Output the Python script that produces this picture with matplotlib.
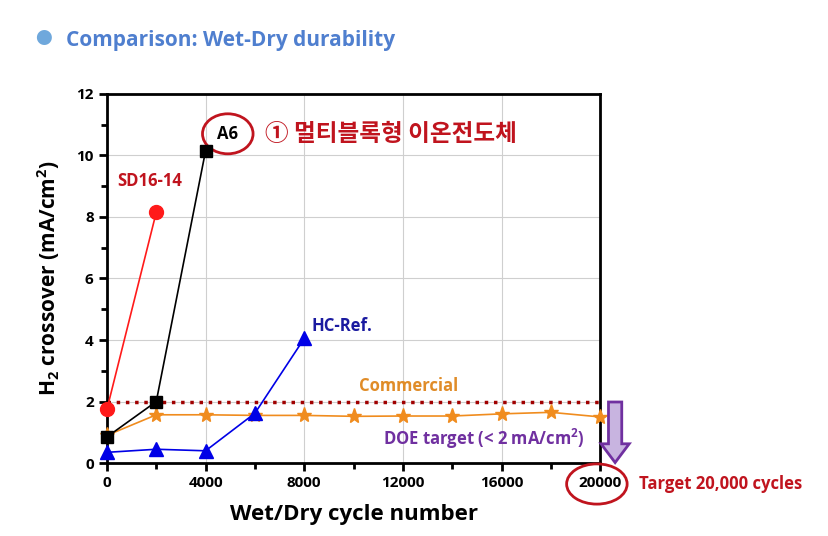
import matplotlib.pyplot as plt
from matplotlib.patches import Ellipse, FancyArrow

plt.rcParams['font.family'] = ['Open Sans', 'Noto Sans CJK KR', 'DejaVu Sans']
plt.rcParams['mathtext.fontset'] = 'custom'
plt.rcParams['mathtext.bf'] = 'Open Sans:bold'
plt.rcParams['mathtext.rm'] = 'Open Sans:bold'
plt.rcParams['mathtext.default'] = 'bf'

# data
sd_x = [0, 2000]
sd_y = [1.75, 8.15]
a6_x = [0, 2000, 4000]
a6_y = [0.85, 2.0, 10.15]
hc_x = [0, 2000, 4000, 6000, 8000]
hc_y = [0.35, 0.45, 0.4, 1.62, 4.05]
com_x = [0, 2000, 4000, 6000, 8000, 10000, 12000, 14000, 16000, 18000, 20000]
com_y = [0.9, 1.57, 1.57, 1.55, 1.55, 1.52, 1.53, 1.53, 1.6, 1.65, 1.5]
doe_target = 2.0
x_ticks = [0, 4000, 8000, 12000, 16000, 20000]
y_ticks = [0, 2, 4, 6, 8, 10, 12]

fig = plt.figure(figsize=(8.29, 5.36), dpi=100)
ax = fig.add_axes([0.129, 0.136, 0.595, 0.689])

ax.grid(True, color='#cfcfcf', lw=0.8)
ax.set_axisbelow(True)

ax.plot([0, 20000], [doe_target, doe_target], ls=':', color='#a00000', lw=2.5, zorder=2)
ax.plot(com_x, com_y, '-*', color='#f08c1e', ms=11, lw=1.2, zorder=3, clip_on=False)
ax.plot(hc_x, hc_y, '-^', color='#0000e6', ms=10, lw=1.2, zorder=4, clip_on=False)
ax.plot(a6_x, a6_y, '-s', color='black', ms=8, lw=1.2, zorder=5, clip_on=False)
ax.plot(sd_x, sd_y, '-o', color='#ff1a1a', ms=10, lw=1.2, zorder=6, clip_on=False)

ax.set_xlim(0, 20000)
ax.set_ylim(0, 12)
ax.set_xticks(x_ticks)
ax.set_xticks(range(2000, 20000, 4000), minor=True)
ax.set_yticks(y_ticks)
ax.set_yticks(range(1, 12, 2), minor=True)
ax.tick_params(axis='both', which='major', direction='out', length=6, width=2, labelsize=11)
ax.tick_params(axis='both', which='minor', direction='out', length=4, width=2)
for lab in ax.get_xticklabels() + ax.get_yticklabels():
    lab.set_fontweight('bold')
for s in ax.spines.values():
    s.set_linewidth(2)

ax.set_xlabel('Wet/Dry cycle number', fontsize=16, fontweight='bold', labelpad=10)
ax.set_ylabel('H$_2$ crossover (mA/cm$^2$)', fontsize=15, fontweight='bold', labelpad=10)

# series labels
ax.text(400, 9.0, 'SD16-14', color='#c0141e', fontsize=12, fontweight='bold')
ax.text(8300, 4.3, 'HC-Ref.', color='#1a1aa0', fontsize=12, fontweight='bold')
ax.text(10200, 2.35, 'Commercial', color='#e08c28', fontsize=12, fontweight='bold')
ax.text(11200, 0.6, 'DOE target (< 2 mA/cm$^2$)', color='#7030a0', fontsize=12, fontweight='bold')
ax.text(4900, 10.7, 'A6', color='black', fontsize=12, fontweight='bold', ha='center', va='center')
ax.add_patch(Ellipse((4900, 10.7), 2050, 1.3, fill=False, ec='#c0141e', lw=2, clip_on=False))
ax.text(6400, 10.7, '① 멀티블록형 이온전도체', color='#c0141e', fontsize=17, fontweight='bold',
        va='center', family=['Noto Sans CJK KR', 'DejaVu Sans'])

# target annotation
fig.patches.append(Ellipse((0.720, 0.097), 0.073, 0.075, transform=fig.transFigure,
                           fill=False, ec='#c0141e', lw=2))
fig.text(0.771, 0.097, 'Target 20,000 cycles', color='#c0141e', fontsize=12, fontweight='bold',
         va='center')
fig.patches.append(FancyArrow(0.742, 0.25, 0, -0.113, width=0.016, head_width=0.034,
                              head_length=0.035, length_includes_head=True,
                              transform=fig.transFigure, fc='#c8b4e0', ec='#7030a0', lw=2))

# header
fig.text(0.053, 0.925, '\u25CF', color='#6fa8dc', fontsize=12, va='center', ha='center')
fig.text(0.08, 0.925, 'Comparison: Wet-Dry durability', color='#4f7fcf', fontsize=15,
         fontweight='bold', va='center')

plt.savefig('out.png')
